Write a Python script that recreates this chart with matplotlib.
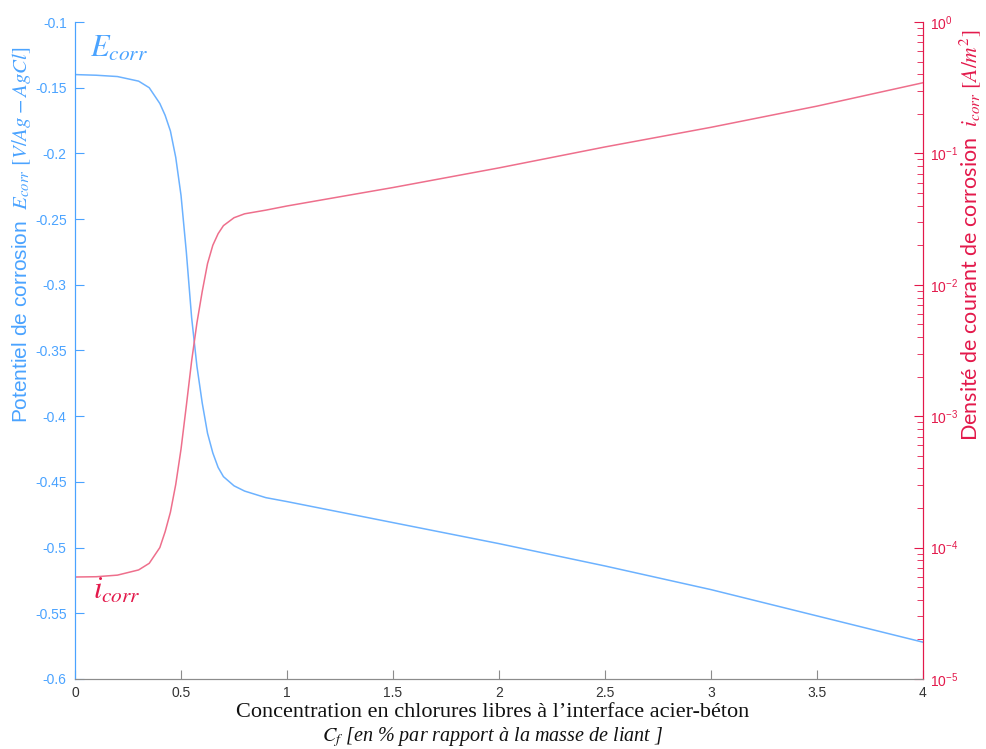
import numpy as np
import matplotlib
matplotlib.use("Agg")
import matplotlib.pyplot as plt
from matplotlib.ticker import LogLocator, NullFormatter

# Free chloride content at steel-concrete interface [% of binder mass]
cf = [0, 0.1, 0.2, 0.3, 0.35, 0.4, 0.425, 0.45, 0.475, 0.5, 0.525, 0.55, 0.575,
      0.6, 0.625, 0.65, 0.675, 0.7, 0.75, 0.8, 0.9, 1.0, 1.25, 1.5, 2.0, 2.5,
      3.0, 3.5, 4.0]

# Corrosion potential [V/Ag-AgCl]
e_corr = [-0.140, -0.1405, -0.1415, -0.145, -0.150, -0.162, -0.171, -0.183,
          -0.203, -0.232, -0.275, -0.325, -0.362, -0.390, -0.413, -0.428,
          -0.439, -0.446, -0.453, -0.457, -0.462, -0.465, -0.473, -0.481,
          -0.497, -0.514, -0.532, -0.552, -0.572]

# Corrosion current density [A/m2]
i_corr = [5.97e-5, 6.0e-5, 6.17e-5, 6.76e-5, 7.59e-5, 1.0e-4, 1.32e-4, 1.86e-4,
          3.02e-4, 5.62e-4, 1.2e-3, 2.63e-3, 5.13e-3, 8.9e-3, 1.45e-2, 2.0e-2,
          2.45e-2, 2.82e-2, 3.24e-2, 3.47e-2, 3.7e-2, 3.98e-2, 4.68e-2, 5.5e-2,
          7.76e-2, 0.112, 0.158, 0.229, 0.345]

x_ticks = [0, 0.5, 1, 1.5, 2, 2.5, 3, 3.5, 4]
y_ticks = [-0.6, -0.55, -0.5, -0.45, -0.4, -0.35, -0.3, -0.25, -0.2, -0.15, -0.1]

blue_txt = '#4aa3ff'
blue_line = '#6cb2ff'
red_txt = '#e3194b'
red_line = '#ee6f8c'
grey = '#8c8c8c'

plt.rcParams['mathtext.fontset'] = 'stix'
plt.rcParams['axes.unicode_minus'] = False
plt.rcParams['font.family'] = ['Liberation Sans', 'DejaVu Sans']

fig = plt.figure(figsize=(9.86, 7.49), dpi=100)
ax = fig.add_axes([0.0761, 0.0935, 0.8600, 0.8771])
ax2 = ax.twinx()

ax.plot(cf, e_corr, color=blue_line, lw=1.1)
ax2.plot(cf, i_corr, color=red_line, lw=1.1)

# left axis
ax.set_xlim(0, 4)
ax.set_ylim(-0.6, -0.1)
ax.set_xticks(x_ticks)
ax.set_xticklabels([f'{v:g}' for v in x_ticks])
ax.set_yticks(y_ticks)
ax.set_yticklabels([f'{v:g}' for v in y_ticks])
ax.tick_params(axis='y', direction='in', length=6.5, width=0.8, colors=blue_txt,
               labelsize=10, pad=6)
ax.tick_params(axis='x', direction='in', length=6.5, width=0.8, color=grey,
               labelcolor='#333333', labelsize=10, pad=5)

# right axis (log)
ax2.set_yscale('log')
ax2.set_ylim(1e-5, 1e0)
ax2.yaxis.set_major_locator(LogLocator(base=10, numticks=10))
ax2.yaxis.set_minor_locator(LogLocator(base=10, subs=np.arange(2, 10), numticks=10))
ax2.yaxis.set_minor_formatter(NullFormatter())
ax2.tick_params(axis='y', which='major', direction='in', length=6.5, width=0.8,
                colors=red_txt, labelsize=10, pad=5)
ax2.tick_params(axis='y', which='minor', direction='in', length=4, width=0.6, colors=red_txt)

for a in (ax, ax2):
    a.spines['top'].set_visible(False)
    a.spines['left'].set_color(blue_txt)
    a.spines['right'].set_color(red_txt)
    a.spines['bottom'].set_color(grey)
    for s in a.spines.values():
        s.set_linewidth(0.8)

ax.set_ylabel(r'Potentiel de corrosion  $E_{corr}\ [V/Ag-AgCl]$', color=blue_txt,
              fontsize=15)
ax.yaxis.set_label_coords(-0.050, 0.676)
ax2.set_ylabel(r'Densité de courant de corrosion  $i_{corr}\ [A/m^2]$', color=red_txt,
               fontsize=15.5, family=['Lato', 'DejaVu Sans'])
ax2.yaxis.set_label_coords(1.040, 0.676)

fig.text(0.5, 0.049, 'Concentration en chlorures libres à l\u2019interface acier-béton',
         ha='center', va='center', fontsize=16, family=['Liberation Serif', 'DejaVu Serif'],
         color='#111111')
fig.text(0.5, 0.016, r'$C_f$ [en % par rapport à la masse de liant ]',
         ha='center', va='center', fontsize=14.5, style='italic',
         family=['Liberation Serif', 'DejaVu Serif'], color='#111111')

ax.text(0.07, -0.1266, r'$E_{corr}$', color=blue_txt, fontsize=22, va='baseline')
ax.text(0.085, -0.539, r'$i_{corr}$', color=red_txt, fontsize=22, va='baseline')

plt.savefig('out.png', dpi=100)
plt.close()
